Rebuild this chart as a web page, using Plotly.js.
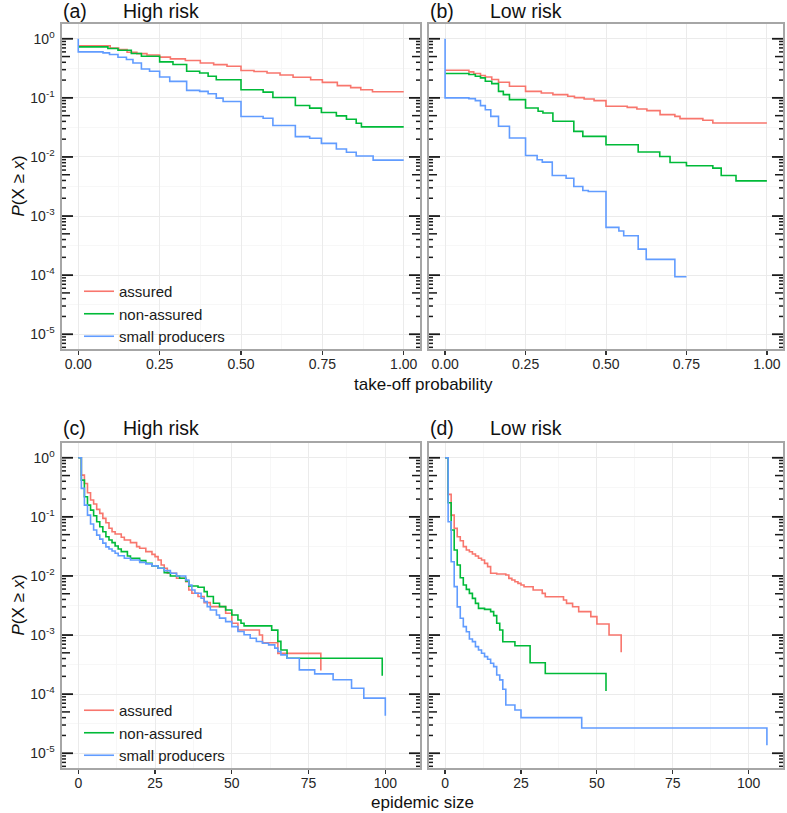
<!DOCTYPE html>
<html><head><meta charset="utf-8">
<script src="https://cdn.plot.ly/plotly-3.0.1.min.js"></script>
<style>html,body{margin:0;padding:0;background:#fff}#chart{width:787px;height:813px}</style>
</head><body><div id="chart"></div>
<script>
// ---------- data ----------
const seriesNames = ['assured', 'non-assured', 'small producers'];
const seriesColors = ['#F8766D', '#00BA38', '#619CFF'];

// (a) take-off probability, high risk
const a_assured_x = [0,0.098,0.124,0.150,0.18,0.211,0.25,0.283,0.329,0.375,0.416,0.457,0.5,0.54,0.58,0.62,0.66,0.714,0.75,0.796,0.837,0.868,0.904,1.0];
const a_assured_y = [0.76,0.70,0.66,0.59,0.56,0.53,0.49,0.456,0.43,0.39,0.365,0.342,0.29,0.28,0.264,0.244,0.223,0.203,0.183,0.161,0.149,0.137,0.127,0.127];
const a_non_x = [0,0.091,0.122,0.163,0.194,0.25,0.291,0.333,0.373,0.399,0.424,0.5,0.568,0.598,0.667,0.711,0.747,0.793,0.824,0.854,0.87,1.0];
const a_non_y = [0.73,0.684,0.641,0.562,0.507,0.406,0.366,0.282,0.264,0.232,0.203,0.137,0.125,0.1017,0.0743,0.067,0.0565,0.0496,0.0435,0.0372,0.0323,0.0323];
const a_small_x = [0,0,0.076,0.096,0.122,0.148,0.168,0.194,0.219,0.25,0.281,0.333,0.373,0.399,0.424,0.445,0.5,0.568,0.598,0.667,0.711,0.747,0.793,0.824,0.854,0.906,1.0];
const a_small_y = [1,0.60,0.577,0.541,0.488,0.445,0.39,0.308,0.282,0.2255,0.19,0.134,0.1286,0.1174,0.099,0.087,0.0483,0.0453,0.034,0.0221,0.0207,0.017,0.0136,0.012,0.01035,0.00885,0.00885];

// (b) take-off probability, low risk
const b_assured_x = [0,0.074,0.089,0.11,0.125,0.145,0.166,0.2,0.25,0.299,0.335,0.381,0.402,0.432,0.463,0.5,0.566,0.596,0.627,0.668,0.714,0.73,0.801,0.832,1.0];
const b_assured_y = [0.294,0.275,0.258,0.239,0.226,0.204,0.184,0.157,0.129,0.121,0.1135,0.1063,0.101,0.0959,0.0898,0.072,0.069,0.0648,0.0608,0.052,0.0487,0.0445,0.0417,0.0375,0.0375];
const b_non_x = [0,0.074,0.094,0.11,0.125,0.145,0.166,0.181,0.2,0.25,0.289,0.304,0.335,0.4,0.428,0.5,0.6,0.667,0.699,0.75,0.832,0.858,0.904,1.0];
const b_non_y = [0.258,0.248,0.232,0.218,0.191,0.1745,0.129,0.1135,0.0934,0.0675,0.0592,0.0555,0.0401,0.0271,0.0223,0.0161,0.0121,0.0102,0.00807,0.00708,0.00646,0.00485,0.00394,0.00394];
const b_small_x = [0,0,0.074,0.094,0.11,0.125,0.142,0.166,0.2,0.25,0.286,0.302,0.333,0.376,0.4,0.428,0.445,0.5,0.54,0.555,0.6,0.625,0.714,0.75];
const b_small_y = [1,0.1,0.097,0.0898,0.0739,0.063,0.0487,0.033,0.0209,0.0106,0.00895,0.00817,0.00485,0.00437,0.00316,0.0027,0.0026,0.000644,0.000558,0.000465,0.000276,0.000185,0.0000937,0.0000937];

// (c) epidemic size, high risk
const c_assured_x = [0,1,2,3,4,5,6,7,8,9,10,11,12,14,15,17,19,20,22,24,25,26,27,28,29,32,35,36,37,39,41,43,48,50,52,59,60,65,79];
const c_assured_y = [1,0.509,0.368,0.256,0.193,0.165,0.134,0.1146,0.0944,0.0797,0.064,0.0561,0.0513,0.0451,0.0406,0.0366,0.0313,0.0294,0.0258,0.0232,0.0212,0.0186,0.0153,0.0135,0.0111,0.00914,0.00802,0.0058,0.0051,0.00448,0.00354,0.00303,0.00234,0.00158,0.00122,0.001,0.00074,0.00049,0.00025];
const c_non_x = [0,1,2,3,4,5,6,7,8,9,10,11,12,13,14,16,17,20,22,24,26,28,30,33,35,36,39,41,42,44,46,48,50,52,53,54,63,65,66,68,99];
const c_non_y = [1,0.419,0.219,0.158,0.130,0.1046,0.0828,0.0682,0.0561,0.0462,0.0406,0.0366,0.0321,0.0286,0.0258,0.0218,0.0199,0.0182,0.0164,0.0148,0.0135,0.0114,0.01,0.00914,0.00823,0.00678,0.00643,0.00543,0.00448,0.00345,0.00303,0.00266,0.00219,0.0018,0.00158,0.00143,0.00121,0.00078,0.00056,0.000404,0.000204];
const c_small_x = [0,1,2,3,4,5,6,7,8,9,10,11,12,13,15,17,20,22,24,26,28,30,32,35,36,37,38,40,41,42,43,45,46,48,50,52,54,56,58,60,62,64,65,66,68,72,77,83,89,93,100];
const c_small_y = [1,0.303,0.158,0.107,0.0757,0.06,0.049,0.042,0.036,0.031,0.0286,0.0265,0.0242,0.022,0.0199,0.0186,0.017,0.016,0.0148,0.0135,0.0123,0.0111,0.01,0.00855,0.00704,0.0058,0.0051,0.0042,0.00368,0.00303,0.00266,0.00219,0.00193,0.00169,0.00139,0.00115,0.00101,0.000884,0.000776,0.000727,0.000682,0.0006,0.000526,0.000462,0.000404,0.000257,0.00022,0.000175,0.000126,0.0000857,0.0000431];

// (d) epidemic size, low risk
const d_assured_x = [0,1,2,3,4,5,6,7,8,9,10,11,12,13,14,15,17,20,21,22,23,24,25,26,29,32,33,39,40,42,44,48,50,54,58];
const d_assured_y = [1,0.24,0.107,0.0638,0.0461,0.0395,0.0313,0.0275,0.0257,0.0235,0.0217,0.0199,0.0186,0.0163,0.0144,0.0111,0.0108,0.0104,0.0091,0.00853,0.008,0.0075,0.00703,0.00658,0.00578,0.00508,0.00446,0.00392,0.00344,0.00302,0.00249,0.00205,0.00154,0.001,0.00051];
const d_non_x = [0,1,2,3,4,5,6,7,8,9,10,11,13,15,16,17,18,19,23,28,33,53];
const d_non_y = [1,0.173,0.0598,0.0275,0.0153,0.00935,0.00703,0.00593,0.00508,0.00418,0.00344,0.00283,0.00272,0.00249,0.00213,0.00158,0.00122,0.00077,0.00066,0.00034,0.000224,0.000113];
const d_small_x = [0,1,2,3,4,5,6,7,8,9,10,11,12,13,14,15,16,17,18,19,20,23,25,45,106];
const d_small_y = [1,0.0828,0.0174,0.0066,0.003,0.00192,0.00139,0.00114,0.000857,0.000773,0.000637,0.000559,0.000491,0.000431,0.000389,0.000333,0.000292,0.000211,0.000174,0.000121,0.0000656,0.000054,0.00004,0.0000268,0.0000136];

// axis tick labels
const probTickVals = [0, 0.25, 0.5, 0.75, 1];
const probTickText = ['0.00', '0.25', '0.50', '0.75', '1.00'];
const probMinorVals = [0.125, 0.375, 0.625, 0.875];
const sizeTickVals = [0, 25, 50, 75, 100];
const sizeTickText = ['0', '25', '50', '75', '100'];
const sizeMinorVals = [12.5, 37.5, 62.5, 87.5];
const decadeExps = [-5, -4, -3, -2, -1, 0];

// ---------- styling / layout ----------
const FONT = 'Liberation Sans, Arial, Helvetica, sans-serif';
const W = 787, H = 813;
const px = v => v / W;
const py = v => 1 - v / H;
const BORDER = '#a6a6a6';
const TICK = '#1a1a1a';
const GRID = '#ebebeb';
const GRID_MINOR = '#f5f5f5';
const Y_RANGE = [-5.25, 0.25];
const inRange = v => Math.log10(v) >= Y_RANGE[0] && Math.log10(v) <= Y_RANGE[1];

const decadeVals = decadeExps.map(e => Math.pow(10, e));
const decadeText = decadeExps.map(e => '10<sup>' + e + '</sup>');
const shortTickVals = [], midTickVals = [], halfDecadeVals = [];
for (let e = -6; e <= 0; e++) {
  [2, 3, 4, 6, 7, 8, 9].forEach(m => shortTickVals.push(m * Math.pow(10, e)));
  midTickVals.push(5 * Math.pow(10, e));
  halfDecadeVals.push(Math.pow(10, e + 0.5));
}
// log tick marks (long at decades, mid at 5, short at 2-4,6-9)
const logTicks = [].concat(
  decadeVals.filter(inRange).map(v => ({v: v, len: 11, w: 1.8})),
  midTickVals.filter(inRange).map(v => ({v: v, len: 8, w: 1.5})),
  shortTickVals.filter(inRange).map(v => ({v: v, len: 4, w: 1.5}))
);

const panels = [
  {id: '', dx: [62, 420], dy: [24, 349], xr: [-0.05, 1.05], tv: probTickVals, tt: probTickText, mv: probMinorVals, ylab: true,
   data: [[a_assured_x, a_assured_y], [a_non_x, a_non_y], [a_small_x, a_small_y]], legend: 'legend'},
  {id: '2', dx: [429, 783], dy: [24, 349], xr: [-0.05, 1.05], tv: probTickVals, tt: probTickText, mv: probMinorVals, ylab: false,
   data: [[b_assured_x, b_assured_y], [b_non_x, b_non_y], [b_small_x, b_small_y]], legend: null},
  {id: '3', dx: [62, 420], dy: [443, 768], xr: [-5.3, 111.3], tv: sizeTickVals, tt: sizeTickText, mv: sizeMinorVals, ylab: true,
   data: [[c_assured_x, c_assured_y], [c_non_x, c_non_y], [c_small_x, c_small_y]], legend: 'legend2'},
  {id: '4', dx: [429, 783], dy: [443, 768], xr: [-5.3, 111.3], tv: sizeTickVals, tt: sizeTickText, mv: sizeMinorVals, ylab: false,
   data: [[d_assured_x, d_assured_y], [d_non_x, d_non_y], [d_small_x, d_small_y]], legend: null}
];

const traces = [];
const layout = {
  width: W, height: H, autosize: false,
  margin: {l: 0, r: 0, t: 0, b: 0, pad: 0},
  paper_bgcolor: '#ffffff', plot_bgcolor: '#ffffff',
  font: {family: FONT, color: '#1a1a1a'},
  showlegend: true,
  annotations: [],
  shapes: []
};

panels.forEach(p => {
  const xa = 'x' + p.id, ya = 'y' + p.id;
  layout['xaxis' + p.id] = {
    domain: [px(p.dx[0]), px(p.dx[1])], anchor: ya, range: p.xr, type: 'linear',
    tickmode: 'array', tickvals: p.tv, ticktext: p.tt,
    ticks: 'outside', ticklen: 4, tickwidth: 1.2, tickcolor: '#333333', ticklabelstandoff: -2,
    tickfont: {family: FONT, size: 14, color: '#262626'},
    showline: true, linecolor: BORDER, linewidth: 1.6, mirror: true,
    showgrid: true, gridcolor: GRID, gridwidth: 1, zeroline: false,
    minor: {tickmode: 'array', tickvals: p.mv, ticks: '', showgrid: true, gridcolor: GRID_MINOR, gridwidth: 0.8},
    fixedrange: true
  };
  layout['yaxis' + p.id] = {
    domain: [py(p.dy[1]), py(p.dy[0])], anchor: xa, type: 'log', range: Y_RANGE,
    tickmode: 'array', tickvals: decadeVals, ticktext: decadeText,
    showticklabels: p.ylab, ticks: '', ticklabelstandoff: 3,
    tickfont: {family: FONT, size: 14, color: '#262626'},
    showline: true, linecolor: BORDER, linewidth: 1.6, mirror: true,
    showgrid: true, gridcolor: GRID, gridwidth: 1, zeroline: false,
    minor: {tickmode: 'array', tickvals: halfDecadeVals, ticks: '', showgrid: true, gridcolor: GRID_MINOR, gridwidth: 0.8},
    fixedrange: true
  };
  // log tick marks pointing into the panel on both vertical edges
  [{edge: p.dx[0], dir: 1}, {edge: p.dx[1], dir: -1}].forEach(side => {
    logTicks.forEach(t => {
      layout.shapes.push({
        type: 'line', layer: 'above',
        xref: 'paper', yref: ya,
        x0: px(side.edge), x1: px(side.edge + side.dir * t.len),
        y0: t.v, y1: t.v,
        line: {color: TICK, width: t.w}
      });
    });
  });
  p.data.forEach((d, i) => {
    traces.push({
      type: 'scatter', mode: 'lines', x: d[0], y: d[1], xaxis: xa, yaxis: ya,
      name: seriesNames[i], line: {shape: 'hv', color: seriesColors[i], width: 1.6},
      showlegend: !!p.legend, legend: p.legend || 'legend'
    });
  });
});

const legendCommon = {
  xanchor: 'left', yanchor: 'middle', bgcolor: 'rgba(0,0,0,0)', borderwidth: 0,
  font: {family: FONT, size: 15, color: '#1a1a1a'}, tracegroupgap: 0, itemclick: false, itemdoubleclick: false
};
layout.legend = Object.assign({x: px(79), y: py(314)}, legendCommon);
layout.legend2 = Object.assign({x: px(79), y: py(733)}, legendCommon);

function ann(text, x, y, opts) {
  layout.annotations.push(Object.assign({
    text: text, x: x, y: y, xref: 'paper', yref: 'paper', showarrow: false,
    xanchor: 'left', yanchor: 'middle', font: {family: FONT, size: 19.5, color: '#111111'}
  }, opts || {}));
}
// panel labels
ann('(a)', px(61), py(10.5)); ann('High risk', px(121), py(10.5));
ann('(b)', px(428), py(10.5)); ann('Low risk', px(488), py(10.5));
ann('(c)', px(61), py(428)); ann('High risk', px(121), py(428));
ann('(d)', px(428), py(428)); ann('Low risk', px(488), py(428));
// axis titles
const yTitle = '<i>P</i>(X ≥ <i>x</i>)';
ann(yTitle, px(18), py(186.5), {xanchor: 'center', textangle: -90, font: {family: FONT, size: 17, color: '#111111'}});
ann(yTitle, px(18), py(605.5), {xanchor: 'center', textangle: -90, font: {family: FONT, size: 17, color: '#111111'}});
ann('take-off probability', px(423), py(384), {xanchor: 'center', font: {family: FONT, size: 17, color: '#111111'}});
ann('epidemic size', px(422), py(802), {xanchor: 'center', font: {family: FONT, size: 17, color: '#111111'}});

Plotly.newPlot('chart', traces, layout, {staticPlot: true, displayModeBar: false});
</script>
</body></html>
